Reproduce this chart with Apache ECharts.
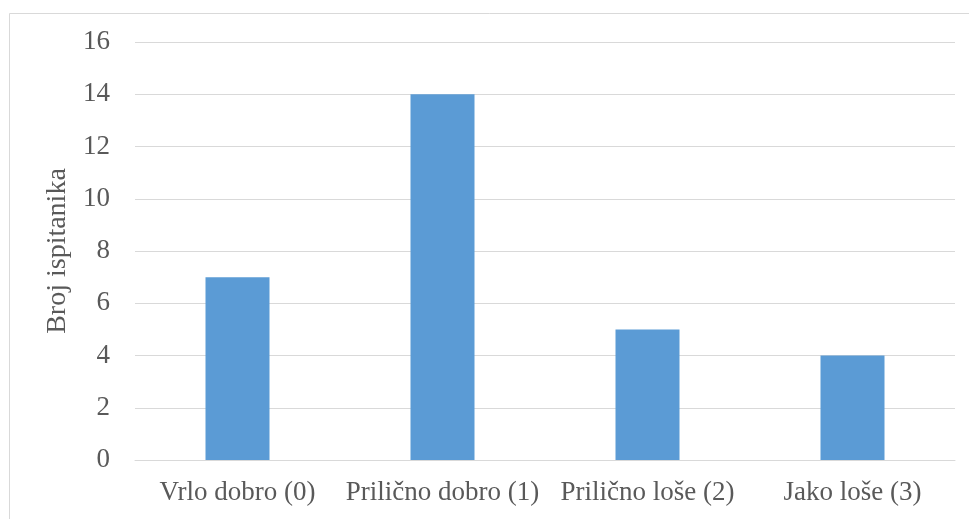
<!DOCTYPE html>
<html>
<head>
<meta charset="utf-8">
<script src="https://cdn.jsdelivr.net/npm/echarts@6/dist/echarts.min.js"></script>
<style>html,body{margin:0;padding:0;background:#fff}#c{width:969px;height:519px}</style>
</head>
<body>
<div id="c"></div>
<script>
const categories = ['Vrlo dobro (0)', 'Prilično dobro (1)', 'Prilično loše (2)', 'Jako loše (3)'];
const values = [7, 14, 5, 4];
const yAxisName = 'Broj ispitanika';

const chart = echarts.init(document.getElementById('c'), null, {renderer: 'canvas'});
const font = '"Liberation Serif", "Times New Roman", serif';
chart.setOption({
  animation: false,
  backgroundColor: '#fff',
  graphic: [{
    type: 'rect', silent: true,
    shape: {x: 9.5, y: 13.5, width: 1000, height: 600},
    style: {fill: 'none', stroke: '#D9D9D9', lineWidth: 1}
  }],
  grid: {left: 135, right: 14, top: 42, bottom: 59, containLabel: false},
  xAxis: {
    type: 'category',
    data: categories,
    axisTick: {show: false},
    axisLine: {show: true, lineStyle: {color: '#D9D9D9', width: 1}},
    axisLabel: {color: '#595959', fontFamily: font, fontSize: 27, margin: 19, interval: 0}
  },
  yAxis: {
    type: 'value',
    min: 0, max: 16, interval: 2,
    name: yAxisName,
    nameLocation: 'middle',
    nameGap: 57,
    nameTextStyle: {color: '#595959', fontFamily: font, fontSize: 28},
    axisLine: {show: false},
    axisTick: {show: false},
    axisLabel: {color: '#595959', fontFamily: font, fontSize: 27, margin: 25},
    splitLine: {lineStyle: {color: '#D9D9D9', width: 1}}
  },
  series: [{
    type: 'bar',
    data: values,
    barWidth: 64,
    itemStyle: {color: '#5B9BD5'}
  }]
});
</script>
</body>
</html>
